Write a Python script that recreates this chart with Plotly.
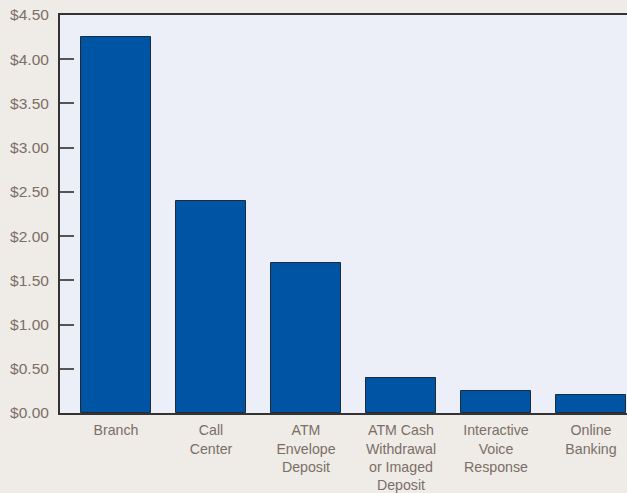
import plotly.graph_objects as go

categories = ["Branch", "Call<br>Center", "ATM<br>Envelope<br>Deposit",
              "ATM Cash<br>Withdrawal<br>or Imaged<br>Deposit",
              "Interactive<br>Voice<br>Response", "Online<br>Banking"]
costs = [4.25, 2.40, 1.70, 0.40, 0.25, 0.20]
tick_vals = [0, 0.5, 1.0, 1.5, 2.0, 2.5, 3.0, 3.5, 4.0, 4.5]
tick_text = ["$%.2f" % v for v in tick_vals]

text_color = "#7a6f66"
fig = go.Figure(go.Bar(
    x=list(range(len(categories))), y=costs, width=0.737,
    marker=dict(color="#0054a4", line=dict(color="#1f2a3a", width=1)),
))
fig.update_layout(
    width=627, height=493,
    margin=dict(l=60, r=0, t=15, b=80),
    paper_bgcolor="#efebe6", plot_bgcolor="#edeff8",
    font=dict(family="Liberation Sans", size=15, color=text_color),
    showlegend=False,
    bargap=0,
)
fig.update_xaxes(
    tickmode="array", tickvals=list(range(len(categories))), ticktext=categories,
    range=[-0.589, 5.379], showgrid=False, zeroline=False,
    showline=True, linecolor="#333333", linewidth=2, mirror=True,
    ticks="", tickfont=dict(size=14.2, color=text_color),
    automargin=False, ticklabelstandoff=3,
)
fig.update_yaxes(
    tickmode="array", tickvals=tick_vals, ticktext=tick_text,
    range=[0, 4.5], showgrid=False, zeroline=False,
    showline=True, linecolor="#333333", linewidth=2,
    ticks="inside", ticklen=14, tickcolor="#555555", tickwidth=1.5,
    tickfont=dict(size=15.5, color=text_color), ticklabelstandoff=6,
    automargin=False,
)
fig.write_html("out.html", config={"displayModeBar": False},
               post_script="document.body.style.margin='0';document.body.style.background='#efebe6';")
